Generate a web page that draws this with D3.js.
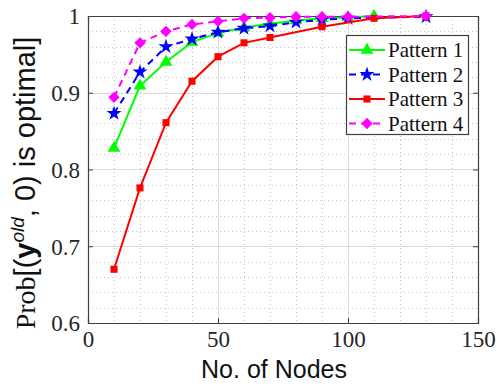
<!DOCTYPE html>
<html><head><meta charset="utf-8">
<script src="https://cdn.jsdelivr.net/npm/d3@7"></script>
<style>body{margin:0;background:#fff}</style>
</head><body>
<svg id="c" width="501" height="386"></svg>
<script>
const nodes = [10,20,30,40,50,60,70,80,90,100,110,120,130];
const pattern1 = [0.828,0.909,0.940,0.966,0.978,0.985,0.990,0.994,0.997,0.998,1.000,null,null];
const pattern2 = [0.873,0.927,0.960,0.970,0.979,0.984,0.987,0.992,0.995,0.997,null,null,0.999];
const pattern3 = [0.670,0.776,0.861,0.915,0.947,0.965,0.972,null,0.986,null,0.997,null,1.000];
const pattern4 = [0.894,0.965,0.980,0.989,0.993,0.997,0.998,0.999,0.999,0.999,null,null,1.000];
const seriesNames = ["Pattern 1","Pattern 2","Pattern 3","Pattern 4"];
const xTicks = [0,50,100,150];
const yTicks = [0.6,0.7,0.8,0.9,1];
const xMinor = d3.range(0,151,10);
const yMinor = d3.range(0.6,1.0001,0.02);

const styles = [
  {color:"#00ff00", dash:null, sym:"tri"},
  {color:"#0000ff", dash:"7,5", sym:"star"},
  {color:"#ff0000", dash:null, sym:"sq"},
  {color:"#ff00ff", dash:"7,5", sym:"dia"}
];
const data = [pattern1,pattern2,pattern3,pattern4];

const svg = d3.select("#c");
const L=88,R=478,T=16,B=323;
const x = d3.scaleLinear().domain([0,150]).range([L,R]);
const y = d3.scaleLinear().domain([0.6,1]).range([B,T]);
const SERIF = "'Liberation Serif','Times New Roman',serif";
const SANS = "'Liberation Sans',Arial,sans-serif";

// minor grid
const g = svg.append("g");
g.selectAll(".mx").data(xMinor.filter(v=>v%50!==0)).join("line")
  .attr("x1",d=>Math.round(x(d))+0.5).attr("x2",d=>Math.round(x(d))+0.5).attr("y1",T).attr("y2",B)
  .attr("stroke","#c4c4c4").attr("stroke-width",1).attr("stroke-dasharray","1,3");
g.selectAll(".my").data(yMinor.filter(v=>Math.abs(v*10-Math.round(v*10))>1e-6)).join("line")
  .attr("x1",L).attr("x2",R).attr("y1",d=>Math.round(y(d))+0.5).attr("y2",d=>Math.round(y(d))+0.5)
  .attr("stroke","#c4c4c4").attr("stroke-width",1).attr("stroke-dasharray","1,3");
// major grid
g.selectAll(".Mx").data(xTicks.slice(1,-1)).join("line")
  .attr("x1",d=>Math.round(x(d))+0.5).attr("x2",d=>Math.round(x(d))+0.5).attr("y1",T).attr("y2",B)
  .attr("stroke","#dcdcdc").attr("stroke-width",1);
g.selectAll(".My").data(yTicks.slice(1,-1)).join("line")
  .attr("x1",L).attr("x2",R).attr("y1",d=>Math.round(y(d))+0.5).attr("y2",d=>Math.round(y(d))+0.5)
  .attr("stroke","#dcdcdc").attr("stroke-width",1);

// axes
const fmtY = d=> d===1?"1":d3.format(".1f")(d);
const axB = svg.append("g").attr("transform",`translate(0,${B})`)
  .call(d3.axisBottom(x).tickValues(xTicks).tickSize(-5).tickPadding(14).tickFormat(d3.format("d")));
const axT = svg.append("g").attr("transform",`translate(0,${T})`)
  .call(d3.axisTop(x).tickValues(xTicks).tickSize(-5).tickFormat(""));
const axL = svg.append("g").attr("transform",`translate(${L},0)`)
  .call(d3.axisLeft(y).tickValues(yTicks).tickSize(-5).tickPadding(8).tickFormat(fmtY));
const axR = svg.append("g").attr("transform",`translate(${R},0)`)
  .call(d3.axisRight(y).tickValues(yTicks).tickSize(-5).tickFormat(""));
[axB,axT,axL,axR].forEach(a=>{
  a.attr("font-family",SERIF).attr("font-size",23);
  a.select(".domain").attr("stroke","#404040").attr("stroke-width",1.2);
  a.selectAll(".tick line").attr("stroke","#404040");
  a.selectAll("text").attr("fill","#262626");
});
axB.selectAll(".tick text").attr("dy","0.45em");
axL.selectAll(".tick text").attr("dy","0.34em");

function sym(type){
  if(type==="tri") return d3.symbol(d3.symbolTriangle,70)();
  if(type==="star") return d3.symbol(d3.symbolStar,70)();
  if(type==="sq") return d3.symbol(d3.symbolSquare,50)();
  return d3.symbol(d3.symbolSquare,64)();
}

const line = d3.line().x(d=>x(d[0])).y(d=>y(d[1]));
data.forEach((vals,i)=>{
  const pts = nodes.map((n,j)=>[n,vals[j]]).filter(p=>p[1]!==null);
  const st = styles[i];
  svg.append("path").datum(pts).attr("d",line).attr("fill","none")
    .attr("stroke",st.color).attr("stroke-width",2).attr("stroke-dasharray",st.dash);
  svg.append("g").selectAll("path").data(pts).join("path")
    .attr("d",sym(st.sym)).attr("fill",st.color)
    .attr("transform",d=>`translate(${x(d[0])},${y(d[1])})`+(st.sym==="dia"?" rotate(45)":""));
});

// legend
const lg = svg.append("g");
lg.append("rect").attr("x",346.5).attr("y",35.5).attr("width",122).attr("height",99)
  .attr("fill","#fff").attr("stroke","#404040").attr("stroke-width",1.2);
const rowY = [50,74.5,99,123.5];
seriesNames.forEach((nm,i)=>{
  const st = styles[i];
  lg.append("line").attr("x1",349).attr("x2",385).attr("y1",rowY[i]).attr("y2",rowY[i])
    .attr("stroke",st.color).attr("stroke-width",2).attr("stroke-dasharray",st.dash);
  lg.append("path").attr("d",sym(st.sym)).attr("fill",st.color)
    .attr("transform",`translate(367,${rowY[i]})`+(st.sym==="dia"?" rotate(45)":""));
  lg.append("text").attr("x",388).attr("y",rowY[i]+7).text(nm)
    .attr("font-family",SERIF).attr("font-size",21).attr("fill","#111");
});

// axis titles
svg.append("text").attr("x",274).attr("y",378).attr("text-anchor","middle")
  .attr("font-family",SANS).attr("font-size",25).attr("fill","#111")
  .text("No. of Nodes");
const yt = svg.append("text").attr("transform","translate(35,183) rotate(-90)").attr("text-anchor","middle")
  .attr("font-size",29).attr("fill","#111").attr("font-family",SANS);
yt.append("tspan").attr("font-family",SERIF).attr("font-size",28).text("Prob");
yt.append("tspan").text("[(");
yt.append("tspan").attr("font-weight","bold").text("y");
yt.append("tspan").attr("font-style","italic").attr("font-size",19).attr("dy",-11).text("old");
yt.append("tspan").attr("dy",11).text(", 0) is optimal]");
</script>
</body></html>
